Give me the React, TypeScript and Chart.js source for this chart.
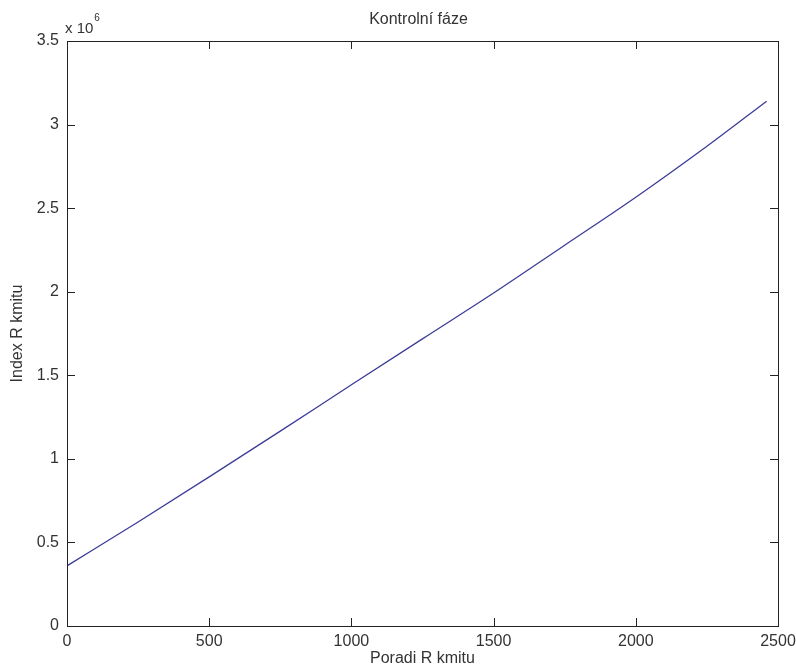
import React, { useEffect, useRef } from "react";
import { Chart, registerables } from "chart.js";

Chart.register(...registerables);

const TITLE = "Kontrolní fáze";
const X_LABEL = "Poradi R kmitu";
const Y_LABEL = "Index R kmitu";
const Y_EXPONENT = "6";

const xValues = [0, 250, 500, 750, 1000, 1250, 1500, 1750, 2000, 2250, 2460];
const yValues = [360000, 622000, 892000, 1166000, 1443000, 1718000, 1992000, 2278000, 2565000, 2870000, 3140000];

const X_MIN = 0;
const X_MAX = 2500;
const X_STEP = 500;
const Y_MIN = 0;
const Y_MAX = 3500000;
const Y_STEP = 500000;

const FONT = "'Liberation Sans', Arial, Helvetica, sans-serif";
const AXIS_COLOR = "#222222";
const TEXT_COLOR = "#333333";
const LINE_COLOR = "#3c3c98";

const framePlugin = {
  id: "matlabFrame",
  afterDraw(chart: any) {
    const { ctx, chartArea } = chart;
    const { left, right, top, bottom } = chartArea;
    const xs = chart.scales.x;
    const ys = chart.scales.y;
    const tl = 8;
    ctx.save();
    ctx.strokeStyle = AXIS_COLOR;
    ctx.lineWidth = 1;
    ctx.strokeRect(Math.round(left) + 0.5, Math.round(top) + 0.5, Math.round(right - left), Math.round(bottom - top));
    ctx.beginPath();
    for (let v = X_MIN; v <= X_MAX; v += X_STEP) {
      const px = Math.round(xs.getPixelForValue(v)) + 0.5;
      ctx.moveTo(px, bottom);
      ctx.lineTo(px, bottom - tl);
      ctx.moveTo(px, top);
      ctx.lineTo(px, top + tl);
    }
    for (let v = Y_MIN; v <= Y_MAX; v += Y_STEP) {
      const py = Math.round(ys.getPixelForValue(v)) + 0.5;
      ctx.moveTo(left, py);
      ctx.lineTo(left + tl, py);
      ctx.moveTo(right, py);
      ctx.lineTo(right - tl, py);
    }
    ctx.stroke();

    // title
    ctx.fillStyle = TEXT_COLOR;
    ctx.font = `16px ${FONT}`;
    ctx.textAlign = "center";
    ctx.textBaseline = "middle";
    ctx.fillText(TITLE, (left + right) / 2 - 4, 20);

    // exponent label
    ctx.textAlign = "left";
    ctx.textBaseline = "alphabetic";
    ctx.font = `15px ${FONT}`;
    ctx.fillText("x 10", left - 2, 33);
    const w = ctx.measureText("x 10").width;
    ctx.font = `10px ${FONT}`;
    ctx.fillText(Y_EXPONENT, left - 2 + w + 1, 21);
    ctx.restore();
  },
};

export default function App() {
  const canvasRef = useRef<HTMLCanvasElement | null>(null);

  useEffect(() => {
    if (!canvasRef.current) return;
    const chart = new Chart(canvasRef.current, {
      type: "line",
      data: {
        datasets: [
          {
            data: xValues.map((x, i) => ({ x, y: yValues[i] })),
            borderColor: LINE_COLOR,
            borderWidth: 1.3,
            pointRadius: 0,
            fill: false,
            cubicInterpolationMode: "monotone",
          },
        ],
      },
      options: {
        responsive: false,
        animation: false,
        layout: { padding: { top: 41, right: 18, left: 0, bottom: 0 } },
        plugins: {
          legend: { display: false },
          title: { display: false },
          tooltip: { enabled: false },
        },
        scales: {
          x: {
            type: "linear",
            min: X_MIN,
            max: X_MAX,
            grid: { display: false, drawTicks: false },
            border: { display: false },
            ticks: {
              stepSize: X_STEP,
              padding: 6,
              color: TEXT_COLOR,
              font: { size: 16, family: FONT },
              maxRotation: 0,
              autoSkip: false,
              callback: (v: any) => String(Number(v)),
            },
            title: {
              display: true,
              text: X_LABEL,
              color: TEXT_COLOR,
              font: { size: 16, family: FONT },
              padding: { top: 0, bottom: 0 },
            },
            afterFit: (scale: any) => {
              scale.height = 42;
              scale.paddingLeft = 0;
              scale.paddingRight = 0;
            },
          },
          y: {
            type: "linear",
            min: Y_MIN,
            max: Y_MAX,
            grid: { display: false, drawTicks: false },
            border: { display: false },
            ticks: {
              stepSize: Y_STEP,
              padding: 8,
              color: TEXT_COLOR,
              font: { size: 16, family: FONT },
              callback: (v: any) => String(Number(v) / 1000000),
            },
            title: {
              display: true,
              text: Y_LABEL,
              color: TEXT_COLOR,
              font: { size: 16, family: FONT },
              padding: { top: 8, bottom: 0 },
            },
            afterFit: (scale: any) => {
              scale.width = 67;
              scale.paddingTop = 0;
              scale.paddingBottom = 0;
            },
          },
        },
      },
      plugins: [framePlugin],
    } as any);
    return () => chart.destroy();
  }, []);

  return (
    <div style={{ position: "absolute", left: 0, top: 0, width: 796, height: 668, background: "#ffffff" }}>
      <canvas ref={canvasRef} width={796} height={668} />
    </div>
  );
}
